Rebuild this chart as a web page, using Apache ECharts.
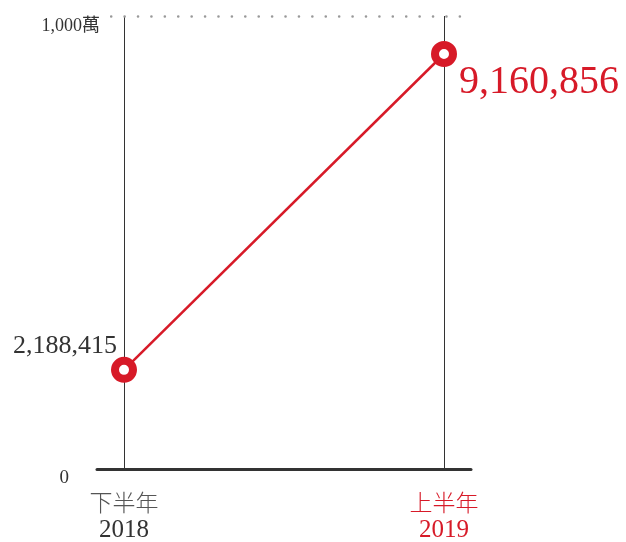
<!DOCTYPE html>
<html>
<head>
<meta charset="utf-8">
<script src="https://cdn.jsdelivr.net/npm/echarts@6/dist/echarts.min.js"></script>
<style>html,body{margin:0;padding:0;background:#fff}#c{width:626px;height:542px}</style>
</head>
<body>
<div id="c"></div>
<script>
var periods = ['下半年', '上半年'];
var years = ['2018', '2019'];
var values = [2188415, 9160856];
var valueLabels = ['2,188,415', '9,160,856'];
var yMax = 10000000;
var yTopLabel = '1,000萬';

var RED = '#d71a28';
var DARK = '#333';
var SERIF = '"Liberation Serif", "Noto Sans CJK TC", serif';

var chart = echarts.init(document.getElementById('c'));
var pts = values.map(function (v, i) { return [i, v]; });
var labelStyles = [
  { show: true, position: 'left', offset: [11, -24], fontSize: 26, color: DARK, fontFamily: SERIF, formatter: valueLabels[0] },
  { show: true, position: 'right', offset: [-3, 28], fontSize: 40, color: RED, fontFamily: SERIF, formatter: valueLabels[1] }
];
chart.setOption({
  animation: false,
  grid: { left: 97, right: 155, top: 16, bottom: 73, outerBoundsMode: 'none', containLabel: false },
  xAxis: {
    type: 'value', min: -0.084375, max: 1.084375,
    axisLine: { show: true, onZero: false, lineStyle: { color: DARK, width: 3 } },
    axisTick: { show: false },
    splitLine: { show: false },
    axisLabel: {
      customValues: [0, 1],
      margin: 19,
      formatter: function (v) {
        var i = Math.round(v);
        return i === 0 ? '{a|' + periods[0] + '}\n{b|' + years[0] + '}' : '{c|' + periods[1] + '}\n{d|' + years[1] + '}';
      },
      rich: {
        a: { fontSize: 23, lineHeight: 28, color: '#555', fontFamily: '"Noto Sans CJK TC"', fontWeight: 300 },
        b: { fontSize: 25, lineHeight: 28, color: DARK, fontFamily: SERIF },
        c: { fontSize: 23, lineHeight: 28, color: RED, fontFamily: '"Noto Sans CJK TC"', fontWeight: 300 },
        d: { fontSize: 25, lineHeight: 28, color: RED, fontFamily: SERIF }
      }
    }
  },
  yAxis: {
    type: 'value', min: 0, max: yMax, interval: yMax,
    axisLine: { show: false },
    axisTick: { show: false },
    splitLine: { show: false },
    axisLabel: {
      margin: -3,
      verticalAlign: 'top',
      formatter: function (v) { return v === 0 ? '{z|0}' : '{t|' + yTopLabel + '}'; },
      rich: {
        z: { fontSize: 19, color: DARK, fontFamily: SERIF, padding: [0, 31, 0, 0] },
        t: { fontSize: 18, color: DARK, fontFamily: SERIF, padding: [1, 0, 0, 0] }
      }
    }
  },
  series: [
    {
      type: 'line', data: [], z: 1, silent: true,
      markLine: {
        symbol: 'none', silent: true, label: { show: false },
        lineStyle: { color: DARK, width: 1, type: 'solid' },
        data: [
          { xAxis: 0 }, { xAxis: 1 },
          [
            { coord: [-0.04, yMax], lineStyle: { color: '#999', width: 2.6, type: [0.01, 13.4], cap: 'round' } },
            { coord: [1.084375, yMax] }
          ]
        ]
      }
    },
    {
      type: 'line', z: 5,
      data: pts.map(function (p, i) { return { value: p, label: labelStyles[i] }; }),
      lineStyle: { color: RED, width: 2.5 },
      symbol: 'circle', symbolSize: 18,
      itemStyle: { color: '#fff', borderColor: RED, borderWidth: 8 }
    }
  ]
});
</script>
</body>
</html>
